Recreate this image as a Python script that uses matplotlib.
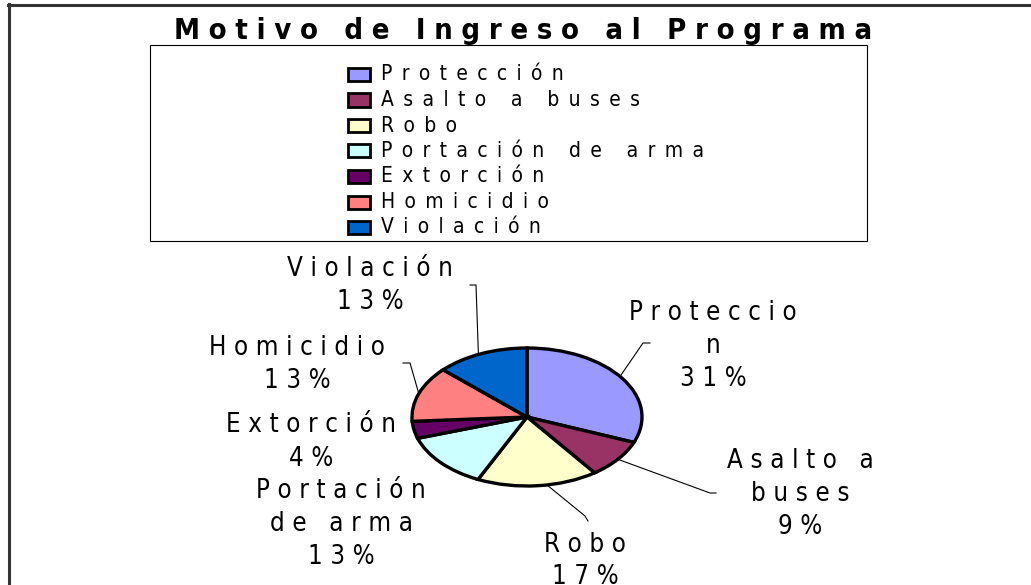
import numpy as np
import matplotlib
matplotlib.use("Agg")
import matplotlib.pyplot as plt
from matplotlib.patches import Rectangle
from matplotlib.lines import Line2D

# ---------------- data ----------------
title = "Motivo de Ingreso al Programa"
categories = ["Protección", "Asalto a buses", "Robo", "Portación de arma",
              "Extorción", "Homicidio", "Violación"]
values = [31, 9, 17, 13, 4, 13, 13]
# label text as wrapped in the chart (percent appended as last line)
label_lines = [["Proteccio", "n"], ["Asalto a", "buses"], ["Robo"],
               ["Portación", "de arma"], ["Extorción"], ["Homicidio"], ["Violación"]]
colors = ["#9999FF", "#993366", "#FFFFCC", "#CCFFFF", "#660066", "#FF8080", "#0066CC"]

# ---------------- layout ----------------
W, H = 1031, 585
FONT = dict(family="DejaVu Sans", fontstretch="condensed")
SP_TITLE = "\u2004"
SP_LEG = "\u2002"
SP_LAB = "\u2004"


def fx(x):
    return x / W


def fy(y):
    return 1 - y / H


def spaced(s, sep):
    return sep.join(s)


fig = plt.figure(figsize=(W / 100, H / 100), dpi=100)
fig.patch.set_facecolor("white")

# outer border (top and left visible)
fig.add_artist(Line2D([fx(8), fx(W)], [fy(5), fy(5)], color="#333333", lw=2.2))
fig.add_artist(Line2D([fx(9), fx(9)], [fy(4), fy(H)], color="#333333", lw=2.2))

# title
fig.text(fx(523), fy(31), spaced(title, SP_TITLE), ha="center", va="center",
         fontsize=21, fontweight="bold", **FONT)

# legend box
fig.add_artist(Rectangle((fx(150), fy(241)), fx(867) - fx(150), fy(45) - fy(241),
                         transform=fig.transFigure, facecolor="white",
                         edgecolor="black", lw=0.8))
row0, drow = 74.5, 25.5
for i, (cat, col) in enumerate(zip(categories, colors)):
    yc = row0 + i * drow
    fig.add_artist(Rectangle((fx(347.5), fy(yc + 6.5)), 22 / W, 13 / H,
                             transform=fig.transFigure, facecolor=col,
                             edgecolor="black", lw=2.0))
    fig.text(fx(381), fy(yc), spaced(cat, SP_LEG), ha="left", va="center",
             fontsize=15, **FONT)

# pie (elliptical)
cx, cy, rx, ry = 527, 417, 115, 69
ax = fig.add_axes([fx(cx - rx), fy(cy + ry), 2 * rx / W, 2 * ry / H])
wedges, _ = ax.pie(values, colors=colors, startangle=90, counterclock=False,
                   wedgeprops=dict(edgecolor="black", linewidth=2.4))
for w in wedges:
    w.set_clip_on(False)
ax.set_aspect("auto")
ax.set_xlim(-1, 1)
ax.set_ylim(-1, 1)
ax.axis("off")

# data labels
total = sum(values)
label_pos = [(713, 346), (800, 494), (585, 561), (341, 524), (311, 442), (297, 364.5), (370, 285.5)]
for lines, v, (lx, ly) in zip(label_lines, values, label_pos):
    pct = f"{round(v / total * 100)}%"
    txt = "\n".join(spaced(l, SP_LAB) for l in lines + [pct])
    fig.text(fx(lx), fy(ly), txt, ha="center", va="center", multialignment="center",
             fontsize=18.5, linespacing=1.35, **FONT)

# leader lines: attach angle on ellipse (deg) + elbow points (px)
leaders = {0: (36, [(643, 343), (650, 343)]),
           1: (-37.8, [(710, 493), (716, 493)]),
           2: (-80, [(585, 516), (588, 521)]),
           5: (160.2, [(410, 363), (403, 363)]),
           6: (115, [(476, 285), (470, 285)])}
for i, (ang, pts) in leaders.items():
    a = np.deg2rad(ang)
    sx, sy = cx + rx * np.cos(a), cy - ry * np.sin(a)
    xs = [sx] + [p[0] for p in pts]
    ys = [sy] + [p[1] for p in pts]
    fig.add_artist(Line2D([fx(x) for x in xs], [fy(y) for y in ys], color="black", lw=0.8))

fig.savefig("out.png", dpi=100, facecolor="white")
